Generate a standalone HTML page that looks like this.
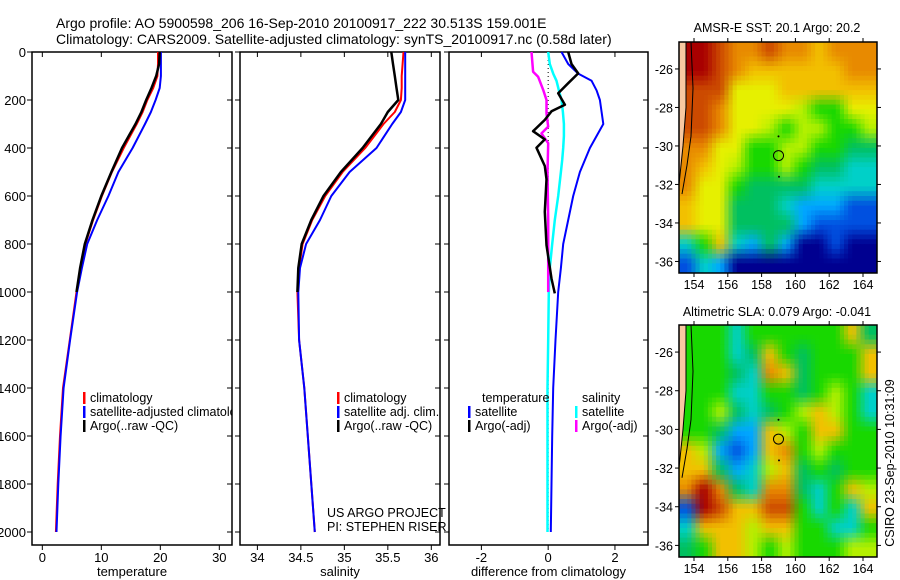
<!DOCTYPE html>
<html><head><meta charset="utf-8">
<style>
html,body{margin:0;padding:0;background:#fff;}
svg{display:block;font-family:"Liberation Sans",sans-serif;}
</style></head>
<body>
<svg id="fig" width="900" height="580" viewBox="0 0 900 580" xmlns="http://www.w3.org/2000/svg">
<text x="56" y="28" font-size="14">Argo profile: AO 5900598_206 16-Sep-2010 20100917_222 30.513S 159.001E</text>
<text x="56" y="44" font-size="14">Climatology: CARS2009. Satellite-adjusted climatology: synTS_20100917.nc (0.58d later)</text>
<defs><clipPath id="p1clip"><rect x="32" y="52" width="200" height="493"/></clipPath></defs>
<g id="plots"></g>
</svg>
<script>
// ---- data ----
const depths = [0,50,100,150,200,250,300,400,500,600,700,800,900,1000,1200,1400,1600,1800,2000];
const tempClim = [19.6,19.6,19.5,18.8,17.8,17.0,16.0,13.8,11.8,10.1,8.6,7.3,6.5,5.8,4.65,3.5,3.0,2.6,2.3];
const tempSat  = [20.1,20.1,20.1,19.9,19.2,18.4,17.4,15.3,12.9,11.2,9.3,7.6,6.7,5.9,4.7,3.6,3.1,2.7,2.4];
const argoDepths = [0,50,100,150,200,250,300,400,500,600,700,800,900,1000];
const tempArgo = [19.9,19.8,19.3,18.5,17.6,16.8,15.8,13.5,11.7,10.0,8.5,7.2,6.4,5.8];
const salClim = [35.68,35.67,35.66,35.66,35.65,35.58,35.45,35.24,34.98,34.78,34.63,34.52,34.48,34.46,34.48,34.54,34.58,34.62,34.66];
const salSat  = [35.70,35.70,35.70,35.70,35.70,35.65,35.55,35.37,35.06,34.85,34.72,34.56,34.49,34.47,34.48,34.54,34.58,34.62,34.66];
const salArgo = [35.54,35.56,35.58,35.60,35.62,35.50,35.42,35.21,34.96,34.76,34.62,34.51,34.47,34.46];
const diffDepths = [0,50,90,120,160,200,250,300,350,400,450,500,600,700,800,900,1000,1200,1400,1600,1800,2000];
const tSatDiff = [0.4,0.6,0.9,1.3,1.45,1.55,1.6,1.65,1.45,1.25,1.1,0.95,0.75,0.6,0.45,0.38,0.3,0.22,0.15,0.12,0.1,0.08];
const sSatDiff = [0,0.05,0.15,0.25,0.32,0.4,0.44,0.47,0.47,0.45,0.42,0.38,0.3,0.2,0.12,0.05,0.02,0,-0.02,-0.02,-0.02,-0.02];
const tArgoDepths = [0,50,89,130,172,220,247,283,330,364,399,475,530,666,805,944,1006];
const tArgoDiff = [0.6,0.7,0.9,0.6,0.3,0.5,0.1,-0.1,-0.45,-0.1,-0.35,-0.1,-0.05,-0.1,-0.05,0.1,0.2];
const sArgoDepths = [0,82,103,158,200,256,311,339,380,500,700,1000];
const sArgoDiff = [-0.5,-0.45,-0.3,-0.15,-0.05,-0.05,0,-0.2,0,-0.02,0,0];
const depthTicks = [0,200,400,600,800,1000,1200,1400,1600,1800,2000];
const tempTicks = [0,10,20,30];
const salTicks = [34,34.5,35,35.5,36];
const salTickLabels = ["34","34.5","35","35.5","36"];
const diffTicks = [-2,0,2];
const lonTicks = [154,156,158,160,162,164];
const latTicks = [-26,-28,-30,-32,-34,-36];
// SST grid (rows lat -25..-36, cols lon 153..164)
const sstGrid = [
"LRroorooyooo","LRroyyyyyyoo","LrrYYYyyyyyy","LroYYYYlggYY","LroYYlgllggl","LoYYggllggGG",
"oyYlgglgGGcc","oYYgGGGGcccc","yYYGGGcbbbBB","yYYGGGGbBBBB","cgycbGbNNBNN","BcbNNNNNNNNN"];
// SLA grid
const slaGrid = [
"LggcggggggyG","LggcGygGgggy","LggGcoyGgggy","LggccggGglgc","LglGcGglylgc","LgGbbylgyygg",
"ylbBbyoglggg","yyGbclyGgGgg","oRoGcooGcgyl","BRryyrrgcgcy","cyyylyyggccg","Ggyylglgggll"];
const palette = {R:"#a80000",r:"#cc4a00",o:"#e88a00",y:"#f2c000",Y:"#e6f000",l:"#b4f000",g:"#18d800",G:"#00c060",c:"#00d0c8",b:"#00a8ff",B:"#0050e0",N:"#000090",L:"#f8c8a0"};

const NS="http://www.w3.org/2000/svg";
const root=document.getElementById('plots');
function el(tag,attrs,parent){const e=document.createElementNS(NS,tag);for(const k in attrs)e.setAttribute(k,attrs[k]);(parent||root).appendChild(e);return e;}
const yTop=52, yBot=545;
function yD(d){return 52+d*0.24;}

function panel(name,x0,x1,vmin,vmax,ticks,tickLabels,xlabel,showY){
  const g=el('g',{});
  
  
  const xs=v=>x0+(v-vmin)/(vmax-vmin)*(x1-x0);
  const fr=el('rect',{x:x0,y:yTop,width:x1-x0,height:yBot-yTop,fill:'none',stroke:'#000','stroke-width':1.5},g);
  
  
  depthTicks.forEach(d=>{
    el('line',{x1:x0-5,x2:x0,y1:yD(d),y2:yD(d),stroke:'#000'},g);
    el('line',{x1:x1-5,x2:x1,y1:yD(d),y2:yD(d),stroke:'#000'},g);
    if(showY){const t=el('text',{x:x0-6,y:yD(d)+5,'font-size':13,'text-anchor':'end'},g);t.textContent=d;
      
      }
  });
  ticks.forEach((v,i)=>{
    el('line',{x1:xs(v),x2:xs(v),y1:yBot,y2:yBot+5,stroke:'#000'},g);
    el('line',{x1:xs(v),x2:xs(v),y1:yTop,y2:yTop+5,stroke:'#000'},g);
    const t=el('text',{x:xs(v),y:yBot+17,'font-size':13,'text-anchor':'middle'},g);t.textContent=tickLabels[i];
    
    
  });
  const xl=el('text',{x:(x0+x1)/2,y:576,'font-size':13,'text-anchor':'middle'},g);xl.textContent=xlabel;
  
  
  return xs;
}
function line(xs,vals,ds,color,w,name){
  const p=vals.map((v,i)=>xs(v).toFixed(1)+','+yD(ds[i]).toFixed(1)).join(' ');
  const l=el('polyline',{points:p,fill:'none',stroke:color,'stroke-width':w,'stroke-linejoin':'round'});
  
  
}
function legend(x,y,color,text,name,clip){
  if(color){el('rect',{x:x,y:y-10,width:2.5,height:12,fill:color});}
  const t=el('text',{x:x+7,y:y,'font-size':12.5});t.textContent=text;
  if(clip)t.setAttribute('clip-path','url(#'+clip+')');
  
  
}
// panel 1
const xT=panel('temperature-panel',32,232,-1.75,32.15,tempTicks,tempTicks.map(String),'temperature',true);
line(xT,tempClim,depths,'#f00',2,'temp-climatology-line');
line(xT,tempSat,depths,'#00f',2,'temp-satellite-line');
line(xT,tempArgo,argoDepths,'#000',2.5,'temp-argo-line');
legend(83,402,'#f00','climatology','legend-climatology');
legend(83,416,'#00f','satellite-adjusted climatology','legend-satellite','p1clip');
legend(83,430,'#000','Argo(..raw -QC)','legend-argo');
// panel 2
const xS=panel('salinity-panel',240,440,33.8,36.1,salTicks,salTickLabels,'salinity',false);
line(xS,salClim,depths,'#f00',2,'sal-climatology-line');
line(xS,salSat,depths,'#00f',2,'sal-satellite-line');
line(xS,salArgo,argoDepths,'#000',2.5,'sal-argo-line');
legend(337,402,'#f00','climatology','legend-sal-climatology');
legend(337,416,'#00f','satellite adj. clim.','legend-sal-satellite');
legend(337,430,'#000','Argo(..raw -QC)','legend-sal-argo');
legend(320,517,null,'US ARGO PROJECT','project-label');
legend(320,531,null,'PI: STEPHEN RISER','pi-label');
// panel 3
const xD=panel('difference-panel',449,648,-2.97,2.99,diffTicks,diffTicks.map(String),'difference from climatology',false);
const z=el('line',{x1:xD(0),x2:xD(0),y1:yD(0),y2:yD(2000),stroke:'#000','stroke-dasharray':'1,3'});


line(xD,tSatDiff,diffDepths,'#00f',2,'temp-satellite-diff-line');
line(xD,sSatDiff,diffDepths,'#0ff',2.5,'sal-satellite-diff-line');
line(xD,sArgoDiff,sArgoDepths,'#f0f',2.5,'sal-argo-diff-line');
line(xD,tArgoDiff,tArgoDepths,'#000',2.5,'temp-argo-diff-line');
legend(475,402,null,'temperature','legend-temperature-head');
legend(468,416,'#00f','satellite','legend-temp-satellite');
legend(468,430,'#000','Argo(-adj)','legend-temp-argo');
legend(575,402,null,'salinity','legend-salinity-head');
legend(575,416,'#0ff','satellite','legend-sal-satellite-diff');
legend(575,430,'#f0f','Argo(-adj)','legend-sal-argo-diff');

function hex(c){return [parseInt(c.slice(1,3),16),parseInt(c.slice(3,5),16),parseInt(c.slice(5,7),16)];}
// maps
function map(name,grid,top,bot,title,titleY){
  const x0=679,x1=877;
  const g=el('g',{});
  
  
  const lonX=l=>694+(l-154)*16.9;
  const latY=l=>top+(l- -24.6)*(-(bot-top)/12);
  const cid=name+'-clip';
  const cp=el('clipPath',{id:cid},g);el('rect',{x:x0,y:top,width:x1-x0,height:bot-top},cp);
  const cells=el('g',{'clip-path':'url(#'+cid+')'},g);
  // colour grid (land cells take neighbour colour)
  const rgb=grid.map(row=>[...row].map((c,k)=>{let cc=c;if(cc==='L'){cc=row[k+1]==='L'?row[k+2]:row[k+1];}return hex(palette[cc]);}));
  const S=4, cw=(x1-x0)/12/S, ch=(bot-top)/12/S;
  for(let i=0;i<12*S;i++){for(let j=0;j<12*S;j++){
    const fy=Math.min(11,Math.max(0,(i+0.5)/S-0.5)), fx=Math.min(11,Math.max(0,(j+0.5)/S-0.5));
    const r0=Math.floor(fy), c0=Math.floor(fx), r1=Math.min(11,r0+1), c1=Math.min(11,c0+1);
    const ty=fy-r0, tx=fx-c0;
    const col=[0,1,2].map(q=>Math.round((rgb[r0][c0][q]*(1-tx)+rgb[r0][c1][q]*tx)*(1-ty)+(rgb[r1][c0][q]*(1-tx)+rgb[r1][c1][q]*tx)*ty));
    const rc=el('rect',{x:(x0+j*cw).toFixed(2),y:(top+i*ch).toFixed(2),width:(cw+0.6).toFixed(2),height:(ch+0.6).toFixed(2),fill:'rgb('+col.join(',')+')'},cells);
    
    
  }}
  const land=el('polygon',{points:`${x0},${top} ${x0+7},${top} ${x0+7},${latY(-28)} ${x0+4},${latY(-30)} ${x0},${latY(-32)}`,fill:palette.L,stroke:'#000','stroke-width':1},cells);
  
  
  el('polyline',{points:`${x0+12},${top} ${x0+14},${latY(-27)} ${x0+12},${latY(-29.5)} ${x0+8},${latY(-31)} ${x0+3},${latY(-32.5)}`,fill:'none',stroke:'#000','stroke-width':1},cells);
  el('rect',{x:x0,y:top,width:x1-x0,height:bot-top,fill:'none',stroke:'#000','stroke-width':1.5},g);
  const cx=lonX(159),cy=latY(-30.5);
  const mk=el('circle',{cx:cx,cy:cy,r:5,fill:'none',stroke:'#000','stroke-width':1},g);
  
  
  el('circle',{cx:cx,cy:latY(-29.5),r:1,fill:'#000'},g);
  el('circle',{cx:cx+0.5,cy:latY(-31.6),r:1,fill:'#000'},g);
  lonTicks.forEach(l=>{
    el('line',{x1:lonX(l),x2:lonX(l),y1:top,y2:top-4,stroke:'#000'},g);
    el('line',{x1:lonX(l),x2:lonX(l),y1:bot,y2:bot+4,stroke:'#000'},g);
    const t=el('text',{x:lonX(l),y:bot+16,'font-size':12.5,'text-anchor':'middle'},g);t.textContent=l;
    
    
  });
  latTicks.forEach(l=>{
    el('line',{x1:x0,x2:x0-4,y1:latY(l),y2:latY(l),stroke:'#000'},g);
    el('line',{x1:x1,x2:x1+4,y1:latY(l),y2:latY(l),stroke:'#000'},g);
    const t=el('text',{x:x0-6,y:latY(l)+5,'font-size':12.5,'text-anchor':'end'},g);t.textContent=l;
    
    
  });
  const tt=el('text',{x:777,y:titleY,'font-size':12.5,'text-anchor':'middle'},g);tt.textContent=title;
  
  
}
map('sst-map',sstGrid,42,273,'AMSR-E SST: 20.1 Argo: 20.2',32);
map('sla-map',slaGrid,325,557,'Altimetric SLA: 0.079 Argo: -0.041',316);
const cs=el('text',{x:0,y:0,'font-size':12.5,'text-anchor':'middle',transform:'translate(894,463) rotate(-90)'});
cs.textContent='CSIRO 23-Sep-2010 10:31:09';


</script>
</body></html>
